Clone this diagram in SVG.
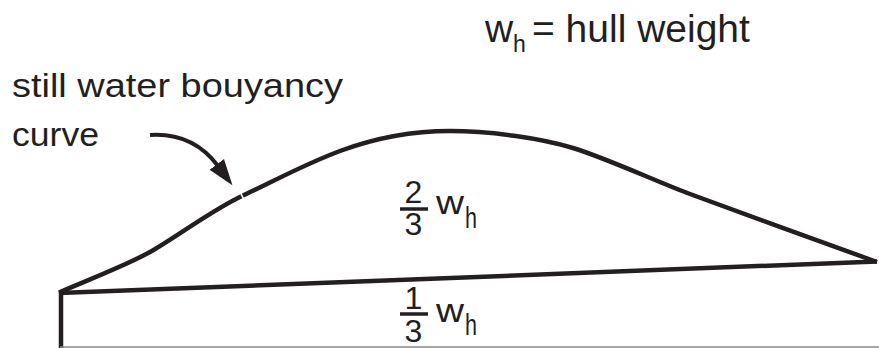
<svg xmlns="http://www.w3.org/2000/svg" width="879" height="348" viewBox="0 0 879 348">
<style>
  .t { font-family: "Liberation Sans", Arial, sans-serif; fill: #231f20; }
  .ln { fill: none; stroke: #231f20; stroke-width: 4.5; stroke-linejoin: miter; stroke-linecap: butt; }
  .bar { stroke: #231f20; stroke-width: 3.5; }
</style>
<defs>
  <marker id="ah" markerUnits="userSpaceOnUse" markerWidth="30" markerHeight="30" refX="0" refY="0" viewBox="-2 -12 30 24" orient="auto">
    <path d="M-2,-9 L24,0 L-2,9 Z" fill="#231f20"/>
  </marker>
</defs>
<rect width="879" height="348" fill="#ffffff"/>

<g id="title">
  <text class="t" x="485" y="42" font-size="39">w</text>
  <text class="t" x="513" y="52" font-size="23">h</text>
  <text class="t" x="532" y="42" font-size="39">= hull weight</text>
</g>

<g id="label">
  <text class="t" x="12" y="96.5" font-size="33" textLength="331" lengthAdjust="spacingAndGlyphs">still water bouyancy</text>
  <text class="t" x="12" y="146" font-size="33" textLength="87" lengthAdjust="spacingAndGlyphs">curve</text>
</g>

<g id="hull">
  <line x1="61" y1="291" x2="61" y2="348" class="ln"/>
  <line x1="60" y1="347" x2="879" y2="347" stroke="#8a8a8a" stroke-width="1.5"/>
</g>

<g id="waterline">
  <line x1="59" y1="293" x2="877" y2="261.5" class="ln"/>
</g>

<g id="buoyancy-curve">
  <path class="ln" d="M59,292.5 C85,281 125,266 150,252 S212,210 242,196 S305,164 340,151 S410,131 450,131 S540,138 573,148 S660,183 690,194 S840,249 877,262"/>
  <line x1="239.5" y1="191" x2="244.5" y2="200.5" stroke="#ffffff" stroke-width="1.6"/>
</g>

<g id="connectors">
  <path d="M150,135 C182,133 203,146 218,166" fill="none" stroke="#231f20" stroke-width="4" marker-end="url(#ah)"/>
</g>

<g id="upper-fraction">
  <text class="t" x="413.5" y="202.5" font-size="32" text-anchor="middle">2</text>
  <line x1="400" y1="209" x2="428" y2="209" class="bar"/>
  <text class="t" x="413.5" y="235" font-size="32" text-anchor="middle">3</text>
  <text class="t" x="436" y="213.5" font-size="34" textLength="28" lengthAdjust="spacingAndGlyphs">w</text>
  <text class="t" x="465" y="228" font-size="30" textLength="12" lengthAdjust="spacingAndGlyphs">h</text>
</g>

<g id="lower-fraction">
  <text class="t" x="413.5" y="308.5" font-size="32" text-anchor="middle">1</text>
  <line x1="400" y1="314" x2="428" y2="314" class="bar"/>
  <text class="t" x="413.5" y="342" font-size="32" text-anchor="middle">3</text>
  <text class="t" x="436" y="321.5" font-size="34" textLength="28" lengthAdjust="spacingAndGlyphs">w</text>
  <text class="t" x="465" y="335" font-size="30" textLength="12" lengthAdjust="spacingAndGlyphs">h</text>
</g>
</svg>
